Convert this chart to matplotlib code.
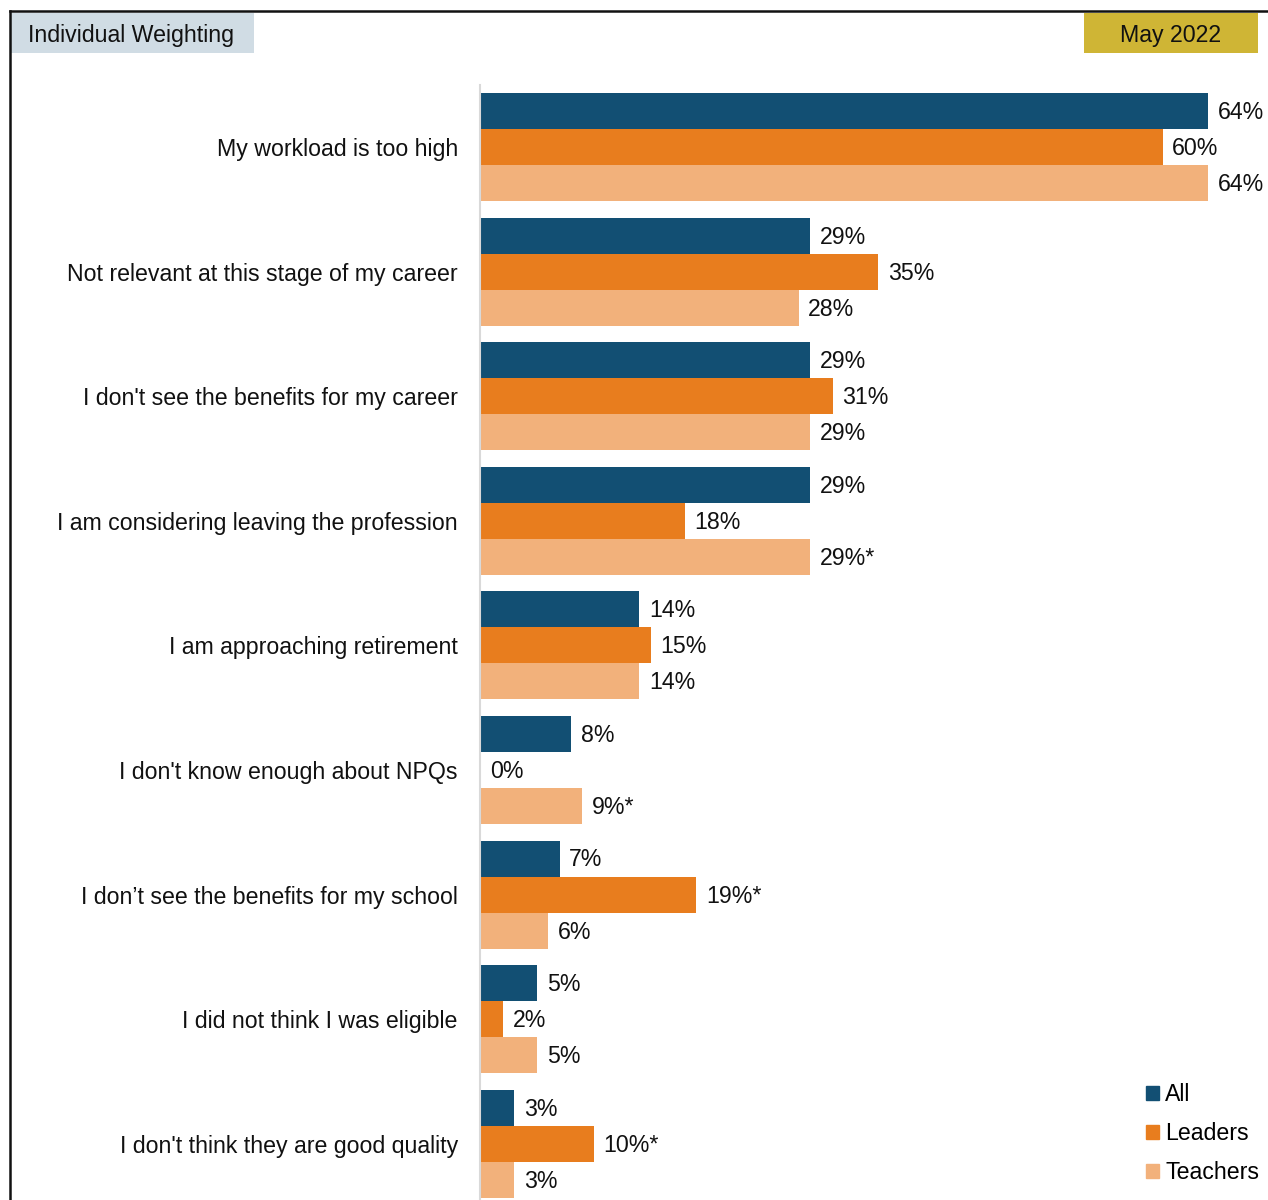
import numpy as np
import matplotlib.pyplot as plt
from matplotlib.patches import Rectangle, Patch
from matplotlib.lines import Line2D

plt.rcParams['font.family'] = ['Liberation Sans', 'DejaVu Sans']

reasons = [
    "My workload is too high",
    "Not relevant at this stage of my career",
    "I don't see the benefits for my career",
    "I am considering leaving the profession",
    "I am approaching retirement",
    "I don't know enough about NPQs",
    "I don\u2019t see the benefits for my school",
    "I did not think I was eligible",
    "I don't think they are good quality",
]
all_vals = [64, 29, 29, 29, 14, 8, 7, 5, 3]
leaders_vals = [60, 35, 31, 18, 15, 0, 19, 2, 10]
teachers_vals = [64, 28, 29, 29, 14, 9, 6, 5, 3]
# significance markers on the labels
all_flags = ["", "", "", "", "", "", "", "", ""]
leaders_flags = ["", "", "", "", "", "", "*", "", "*"]
teachers_flags = ["", "", "", "*", "", "*", "", "", ""]

series = [
    ("All", all_vals, all_flags, "#124F73"),
    ("Leaders", leaders_vals, leaders_flags, "#E87D1E"),
    ("Teachers", teachers_vals, teachers_flags, "#F2B17B"),
]

W, H = 1268, 1200
fig = plt.figure(figsize=(W / 100, H / 100), dpi=100)
ax = fig.add_axes([480 / W, 0, (W - 480) / W, (H - 85) / H])

y = np.arange(len(reasons))
bh = 0.289
fs = 16.7

handles = []
for k, (name, vals, flags, col) in enumerate(series):
    pos = y + (k - 1) * bh
    ax.barh(pos, vals, height=bh, color=col, edgecolor="none", label=name)
    handles.append(Patch(color=col, label=name))
    for yy, v, f in zip(pos, vals, flags):
        ax.annotate(f"{v}%{f}", xy=(v, yy), xytext=(7, -1), textcoords="offset points",
                    va="center", ha="left", fontsize=fs, color="#111111")

ax.set_xlim(0, (W - 480) / 11.375)
ax.set_ylim(8.451, -0.498)
ax.set_yticks(y)
ax.set_yticklabels(reasons, fontsize=fs, color="#111111")
ax.tick_params(axis="y", length=0, pad=16)
ax.set_xticks([])
for s in ["top", "right", "bottom"]:
    ax.spines[s].set_visible(False)
ax.spines["left"].set_color("#D9D9D9")
ax.spines["left"].set_linewidth(1.5)

ax.legend(handles=handles, loc="lower right", bbox_to_anchor=(1259 / W, 16 / H),
          bbox_transform=fig.transFigure, frameon=False, fontsize=fs,
          handlelength=0.55, handleheight=0.55, handletextpad=0.25,
          labelspacing=0.68, borderpad=0, borderaxespad=0)

# frame lines and header tags
fig.add_artist(Line2D([10 / W, 1], [1 - 11 / H, 1 - 11 / H], color="#111111", lw=1.8))
fig.add_artist(Line2D([10 / W, 10 / W], [0, 1 - 11 / H], color="#111111", lw=1.8))
fig.add_artist(Rectangle((11 / W, 1 - 53 / H), 243 / W, 40 / H, color="#D0DCE4", lw=0))
fig.text(28 / W, 1 - 35.5 / H, "Individual Weighting", fontsize=fs, va="center", ha="left", color="#111111")
fig.add_artist(Rectangle((1084 / W, 1 - 53 / H), 174 / W, 40 / H, color="#CFB535", lw=0))
fig.text(1171 / W, 1 - 35.5 / H, "May 2022", fontsize=fs, va="center", ha="center", color="#111111")

fig.savefig("out.png", dpi=100)
